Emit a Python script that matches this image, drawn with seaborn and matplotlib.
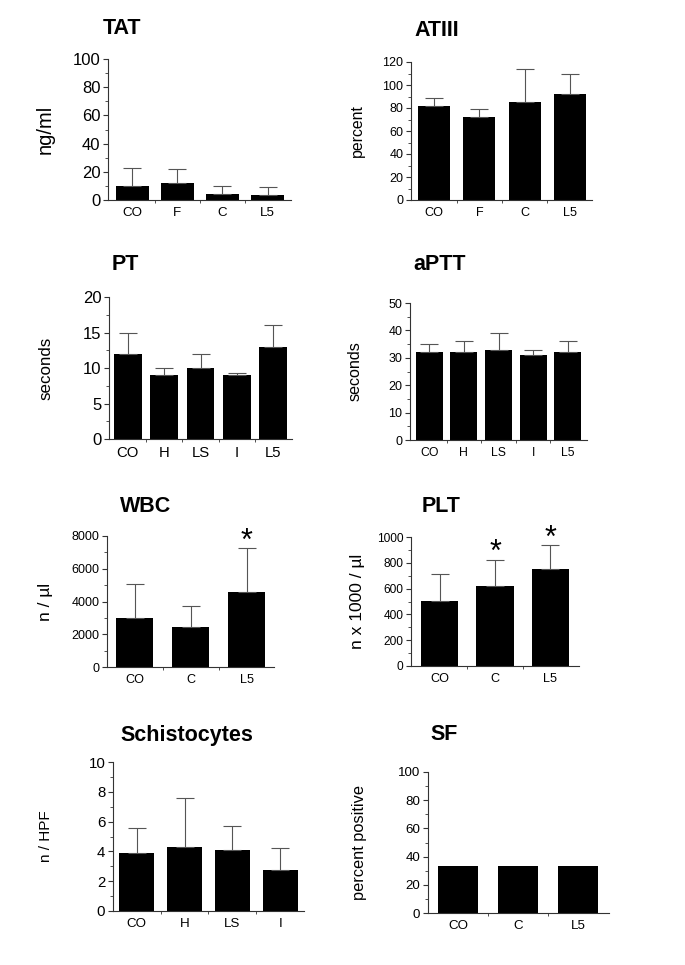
import seaborn as sns
import pandas as pd
import numpy as np
import matplotlib.pyplot as plt
from matplotlib.ticker import MultipleLocator, AutoMinorLocator, FixedLocator

# values (mean and upper SD)
tat_groups = ["CO", "F", "C", "L5"]
tat_mean = [10, 12, 4.3, 3.3]
tat_sd = [13, 10, 5.4, 5.7]

atiii_groups = ["CO", "F", "C", "L5"]
atiii_mean = [82, 72, 85.5, 92.5]
atiii_sd = [7, 7.5, 28, 17.5]

pt_groups = ["CO", "H", "LS", "I", "L5"]
pt_mean = [12, 9, 10, 9, 13]
pt_sd = [3, 1, 2, 0.3, 3]

aptt_groups = ["CO", "H", "LS", "I", "L5"]
aptt_mean = [32, 32, 33, 31, 32]
aptt_sd = [3, 4, 6, 2, 4]

wbc_groups = ["CO", "C", "L5"]
wbc_mean = [3000, 2470, 4550]
wbc_sd = [2040, 1245, 2695]
wbc_star = [False, False, True]

plt_groups = ["CO", "C", "L5"]
plt_mean = [505, 620, 750]
plt_sd = [205, 205, 185]
plt_star = [False, True, True]

schisto_groups = ["CO", "H", "LS", "I"]
schisto_mean = [3.9, 4.3, 4.1, 2.75]
schisto_sd = [1.65, 3.3, 1.6, 1.5]

sf_groups = ["CO", "C", "L5"]
sf_mean = [33.3, 33.3, 33.3]

W, H = 685, 965
sns.set_style("ticks")
plt.rcParams['font.family'] = ['Liberation Sans', 'DejaVu Sans']
for k in ["text.color", "axes.labelcolor", "xtick.labelcolor", "ytick.labelcolor"]:
    plt.rcParams[k] = "black"
fig = plt.figure(figsize=(W / 100, H / 100), dpi=100)


def panel(box, groups, mean, sd, stars, title, title_xy, ylabel, label_x,
          ymax, ystep, xlim, width, ytick_fs, xtick_fs, ylab_fs):
    l, t, r, b = box
    ax = fig.add_axes([l / W, 1 - b / H, (r - l) / W, (b - t) / H])
    df = pd.DataFrame({"group": groups, "value": mean})
    sns.barplot(data=df, x="group", y="value", color="black", saturation=1,
                width=width, errorbar=None, linewidth=0, ax=ax)
    if sd is not None:
        ax.errorbar(np.arange(len(groups)), mean, yerr=[np.zeros(len(sd)), sd],
                    fmt="none", ecolor="#555555", elinewidth=0.8,
                    capsize=6.5, capthick=0.8, zorder=1)
    if stars is not None:
        for i, s in enumerate(stars):
            if s:
                ax.annotate("*", (i, mean[i] + sd[i]), xytext=(0, -1),
                            textcoords="offset points", ha="center",
                            va="baseline", fontsize=22)
    ax.set_ylim(0, ymax)
    ax.set_xlim(*xlim)
    ax.yaxis.set_major_locator(MultipleLocator(ystep))
    ax.yaxis.set_minor_locator(AutoMinorLocator(2))
    ax.xaxis.set_minor_locator(FixedLocator(np.arange(len(groups) - 1) + 0.5))
    ax.tick_params(axis="y", which="major", length=3.5, width=0.8,
                   labelsize=ytick_fs, pad=2, color="#333333")
    ax.tick_params(axis="y", which="minor", length=2, width=0.6, color="#333333")
    ax.tick_params(axis="x", which="major", length=0, labelsize=xtick_fs, pad=5)
    ax.tick_params(axis="x", which="minor", length=2.5, width=0.6, color="#333333")
    for sp in ["top", "right"]:
        ax.spines[sp].set_visible(False)
    for sp in ["left", "bottom"]:
        ax.spines[sp].set_color("#333333")
        ax.spines[sp].set_linewidth(0.8)
    ax.set_xlabel("")
    ax.set_ylabel(ylabel, fontsize=ylab_fs)
    ax.yaxis.set_label_coords((label_x - l) / (r - l), 0.5)
    fig.text(title_xy[0] / W, 1 - title_xy[1] / H, title, fontsize=15.5,
             fontweight="bold", ha="left", va="center")
    return ax


panel((108, 59, 291, 200), tat_groups, tat_mean, tat_sd, None, "TAT",
      (103, 29), "ng/ml", 55, 100, 20, (-0.54, 3.52), 0.73, 12, 9.6, 14.5)
panel((411, 62, 592, 200), atiii_groups, atiii_mean, atiii_sd, None, "ATIII",
      (414, 31), "percent", 365, 120, 20, (-0.51, 3.49), 0.71, 9, 9.1, 11.4)
panel((109, 297, 292, 439), pt_groups, pt_mean, pt_sd, None, "PT",
      (112, 264), "seconds", 53, 20, 5, (-0.52, 4.52), 0.77, 12, 10.7, 12.2)
panel((410, 303, 587, 440), aptt_groups, aptt_mean, aptt_sd, None, "aPTT",
      (413, 265), "seconds", 363, 50, 10, (-0.56, 4.56), 0.78, 9, 8.8, 11.6)
panel((107, 536, 274, 667), wbc_groups, wbc_mean, wbc_sd, wbc_star, "WBC",
      (120, 507), "n / µl", 53, 8000, 2000, (-0.5, 2.49), 0.66, 9, 9.1, 12.5)
panel((411, 537, 579, 666), plt_groups, plt_mean, plt_sd, plt_star, "PLT",
      (422, 507), "n x 1000 / µl", 365, 1000, 200, (-0.52, 2.52), 0.67, 8.6, 9.1, 12.5)
panel((113, 762, 304, 911), schisto_groups, schisto_mean, schisto_sd, None,
      "Schistocytes", (120, 735), "n / HPF", 53, 10, 2, (-0.49, 3.49), 0.73,
      10.8, 9.6, 11)
panel((428, 772, 609, 913), sf_groups, sf_mean, None, None, "SF",
      (430, 735), "percent positive", 367, 100, 20, (-0.5, 2.51), 0.67,
      9.6, 9.6, 11.8)

fig.savefig("out.png", dpi=100)
